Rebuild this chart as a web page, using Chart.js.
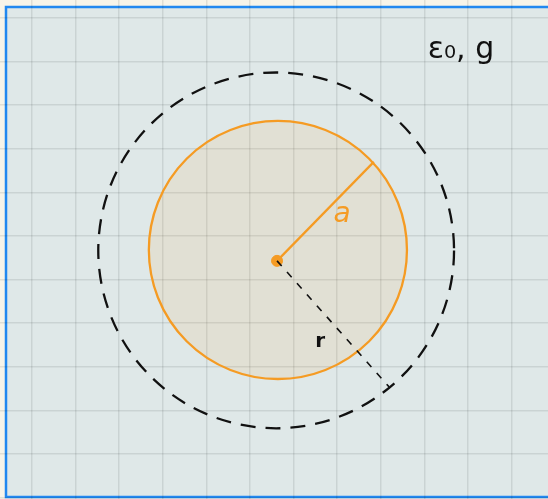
<!DOCTYPE html>
<html lang="en">
<head>
    <meta charset="UTF-8">
    <title>Charged sphere sketch</title>
    <script src="https://cdn.jsdelivr.net/npm/chart.js"></script>
    <style>
        body {
            margin: 0;
            background: #f7f4e9;
        }
        .chart-container {
            width: 548px;
            height: 499px;
        }
    </style>
</head>
<body>
    <div class="chart-container">
        <canvas id="sketchChart" width="548" height="499"></canvas>
    </div>

    <script>
        // all values are in grid units (one grid square = 1)
        const xRange = [-0.734, 11.835];
        const yRange = [-1.032, 10.413];

        const centerPoint = [{ x: 5.62, y: 4.43 }];
        const radiusA = [{ x: 5.62, y: 4.43 }, { x: 7.84, y: 6.70 }];
        const radiusR = [{ x: 5.62, y: 4.43 }, { x: 8.19, y: 1.54 }];

        // circles: centre x, centre y, radius
        const sphereCircle = [5.64, 4.68, 2.96];
        const gaussCircle = [5.60, 4.67, 4.08];

        const labelNames = ['a', 'r', 'ε₀, g'];
        const labelSpots = [[7.11, 5.48], [6.61, 2.57], [9.84, 9.27]];

        const ctx = document.getElementById('sketchChart').getContext('2d');

        const paperPlugin = {
            id: 'paper',
            beforeDraw(chart) {
                const c = chart.ctx;
                c.save();
                c.fillStyle = '#f7f4e9';
                c.fillRect(0, 0, chart.width, chart.height);
                c.fillStyle = '#dfe8e8';
                c.fillRect(6, 7, chart.width, 490);
                c.strokeStyle = '#2188f0';
                c.lineWidth = 2.5;
                c.strokeRect(6, 7, chart.width + 10, 490);
                c.restore();
            }
        };

        function drawCircle(chart, circle, stroke, fill, dash, width) {
            const xs = chart.scales.x, ys = chart.scales.y;
            const cx = xs.getPixelForValue(circle[0]);
            const cy = ys.getPixelForValue(circle[1]);
            const r = xs.getPixelForValue(circle[0] + circle[2]) - cx;
            const c = chart.ctx;
            c.save();
            c.beginPath();
            c.arc(cx, cy, r, 0, Math.PI * 2);
            if (fill) {
                c.fillStyle = fill;
                c.fill();
            }
            c.setLineDash(dash);
            c.lineWidth = width;
            c.strokeStyle = stroke;
            c.stroke();
            c.restore();
        }

        const circlePlugin = {
            id: 'circles',
            beforeDatasetsDraw(chart) {
                drawCircle(chart, gaussCircle, '#111', null, [15, 10], 2.3);
                drawCircle(chart, sphereCircle, '#f59b23', 'rgba(245, 155, 35, 0.1)', [], 2.3);
            },
            afterDatasetsDraw(chart) {
                const xs = chart.scales.x, ys = chart.scales.y;
                const c = chart.ctx;
                const styles = [
                    { color: '#f59b23', font: 'italic 28px "DejaVu Sans"' },
                    { color: '#111', font: 'bold 20px "DejaVu Sans"' },
                    { color: '#111', font: '30px "DejaVu Sans"' }
                ];
                c.save();
                c.textAlign = 'center';
                c.textBaseline = 'middle';
                labelNames.forEach((txt, i) => {
                    c.fillStyle = styles[i].color;
                    c.font = styles[i].font;
                    c.fillText(txt, xs.getPixelForValue(labelSpots[i][0]), ys.getPixelForValue(labelSpots[i][1]));
                });
                c.restore();
            }
        };

        new Chart(ctx, {
            type: 'scatter',
            data: {
                datasets: [
                    {
                        data: radiusR,
                        showLine: true,
                        borderColor: '#111',
                        borderWidth: 1.6,
                        borderDash: [7, 8],
                        pointRadius: 0
                    },
                    {
                        data: radiusA,
                        showLine: true,
                        borderColor: '#f59b23',
                        borderWidth: 2.2,
                        pointRadius: 0
                    },
                    {
                        data: centerPoint,
                        pointRadius: 5.5,
                        backgroundColor: '#f59b23',
                        borderColor: '#f59b23'
                    }
                ]
            },
            options: {
                responsive: false,
                animation: false,
                layout: { padding: 0, autoPadding: false },
                plugins: {
                    legend: { display: false },
                    tooltip: { enabled: false }
                },
                scales: {
                    x: {
                        type: 'linear',
                        min: xRange[0],
                        max: xRange[1],
                        afterFit: s => { s.height = 0; },
                        ticks: { display: false, stepSize: 1, includeBounds: false },
                        grid: { color: 'rgba(0, 0, 0, 0.09)', lineWidth: 1.5, drawTicks: false },
                        border: { display: false }
                    },
                    y: {
                        type: 'linear',
                        min: yRange[0],
                        max: yRange[1],
                        afterFit: s => { s.width = 0; },
                        ticks: { display: false, stepSize: 1, includeBounds: false },
                        grid: { color: 'rgba(0, 0, 0, 0.09)', lineWidth: 1.5, drawTicks: false },
                        border: { display: false }
                    }
                }
            },
            plugins: [paperPlugin, circlePlugin]
        });
    </script>
</body>
</html>
